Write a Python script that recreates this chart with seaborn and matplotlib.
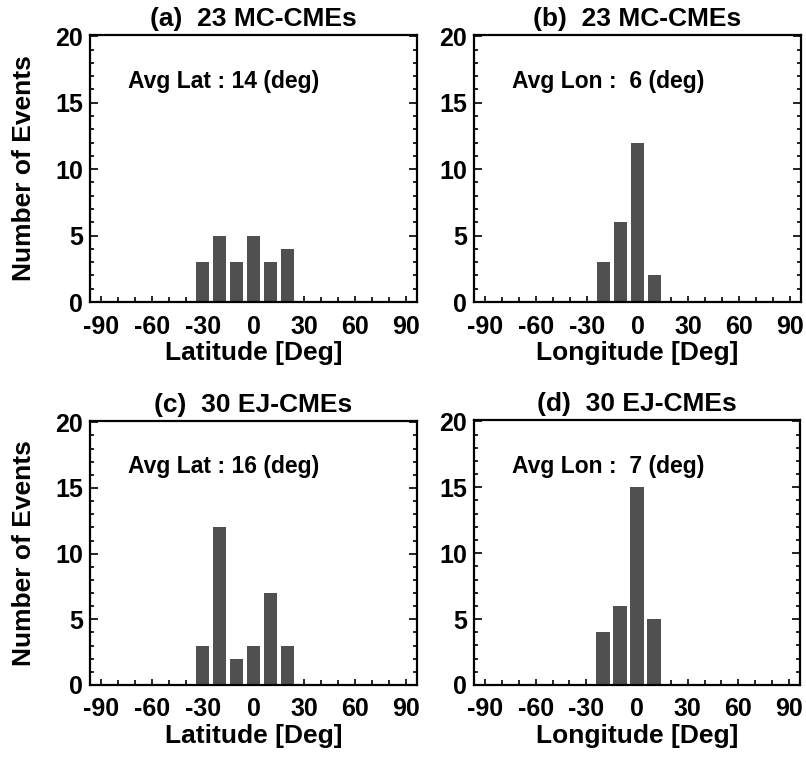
import matplotlib
matplotlib.use("Agg")
import matplotlib.pyplot as plt
from matplotlib.ticker import MultipleLocator, FixedLocator
import seaborn as sns
import pandas as pd

sns.set_theme(style="white")
plt.rcParams['font.family'] = ['Liberation Sans', 'DejaVu Sans']
plt.rcParams['font.weight'] = 'bold'
plt.rcParams['axes.unicode_minus'] = False
plt.rcParams['text.color'] = 'black'
plt.rcParams['axes.labelcolor'] = 'black'
plt.rcParams['xtick.color'] = 'black'
plt.rcParams['ytick.color'] = 'black'

# ---- data ----
lat_bins_mc = [-30, -20, -10, 0, 10, 20]
lat_counts_mc = [3, 5, 3, 5, 3, 4]
lon_bins_mc = [-20, -10, 0, 10]
lon_counts_mc = [3, 6, 12, 2]
lat_bins_ej = [-30, -20, -10, 0, 10, 20]
lat_counts_ej = [3, 12, 2, 3, 7, 3]
lon_bins_ej = [-20, -10, 0, 10]
lon_counts_ej = [4, 6, 15, 5]

titles = ["(a)  23 MC-CMEs", "(b)  23 MC-CMEs", "(c)  30 EJ-CMEs", "(d)  30 EJ-CMEs"]
avg_texts = ["Avg Lat : 14 (deg)", "Avg Lon :  6 (deg)", "Avg Lat : 16 (deg)", "Avg Lon :  7 (deg)"]
xlabels = ["Latitude [Deg]", "Longitude [Deg]", "Latitude [Deg]", "Longitude [Deg]"]
ylabel = "Number of Events"
xticks = [-90, -60, -30, 0, 30, 60, 90]
yticks = [0, 5, 10, 15, 20]

panels = [(lat_bins_mc, lat_counts_mc), (lon_bins_mc, lon_counts_mc),
          (lat_bins_ej, lat_counts_ej), (lon_bins_ej, lon_counts_ej)]

W, H = 806, 757
fig = plt.figure(figsize=(W / 100, H / 100), dpi=100)

# axes boxes in pixels: left, top, right, bottom
boxes = [(90, 35, 417, 302), (474, 35, 801, 302),
         (90, 421, 417, 685), (474, 420, 800, 685)]

bar_color = "#505050"

for i, ((bins, counts), box) in enumerate(zip(panels, boxes)):
    l, t, r, b = box
    ax = fig.add_axes([l / W, 1 - b / H, (r - l) / W, (b - t) / H])
    df = pd.DataFrame({"deg": bins, "n": counts})
    sns.barplot(data=df, x="deg", y="n", native_scale=True, width=0.8,
                color=bar_color, saturation=1, errorbar=None,
                edgecolor="none", linewidth=0, ax=ax)
    ax.set_xlim(-96.5, 96.5)
    ax.set_ylim(0, 20.1)
    ax.xaxis.set_major_locator(FixedLocator(xticks))
    ax.xaxis.set_minor_locator(MultipleLocator(10))
    ax.yaxis.set_major_locator(FixedLocator(yticks))
    ax.yaxis.set_minor_locator(MultipleLocator(1))
    ax.set_xticklabels([str(v) for v in xticks])
    ax.set_yticklabels([str(v) for v in yticks])
    ax.tick_params(axis="x", which="major", direction="in", length=4.5, width=1.2,
                   labelsize=18, pad=9, colors="black", bottom=True, top=False)
    ax.tick_params(axis="x", which="minor", direction="in", length=3.5, width=1.2,
                   bottom=True, top=False)
    ax.tick_params(axis="y", which="major", direction="in", length=5.5, width=1.2,
                   labelsize=18, pad=5, colors="black", left=True, right=True)
    ax.tick_params(axis="y", which="minor", direction="in", length=3, width=1.2,
                   left=True, right=True)
    for lab in ax.get_xticklabels() + ax.get_yticklabels():
        lab.set_fontweight("bold")
    for sp in ax.spines.values():
        sp.set_visible(True)
        sp.set_color("black")
        sp.set_linewidth(1.6)
    ax.set_title(titles[i], fontsize=19, fontweight="bold", pad=6.5, color="black")
    ax.set_xlabel(xlabels[i], fontsize=19, fontweight="bold", labelpad=1.5)
    if i % 2 == 0:
        ax.set_ylabel(ylabel, fontsize=19, fontweight="bold")
        ax.yaxis.set_label_coords(-0.165, 0.5)
    else:
        ax.set_ylabel("")
    ax.text(-74, 16.6, avg_texts[i], fontsize=16.5, fontweight="bold",
            ha="left", va="center", color="black")
    ax.set_facecolor("white")

fig.savefig("out.png", dpi=100, facecolor="white")
